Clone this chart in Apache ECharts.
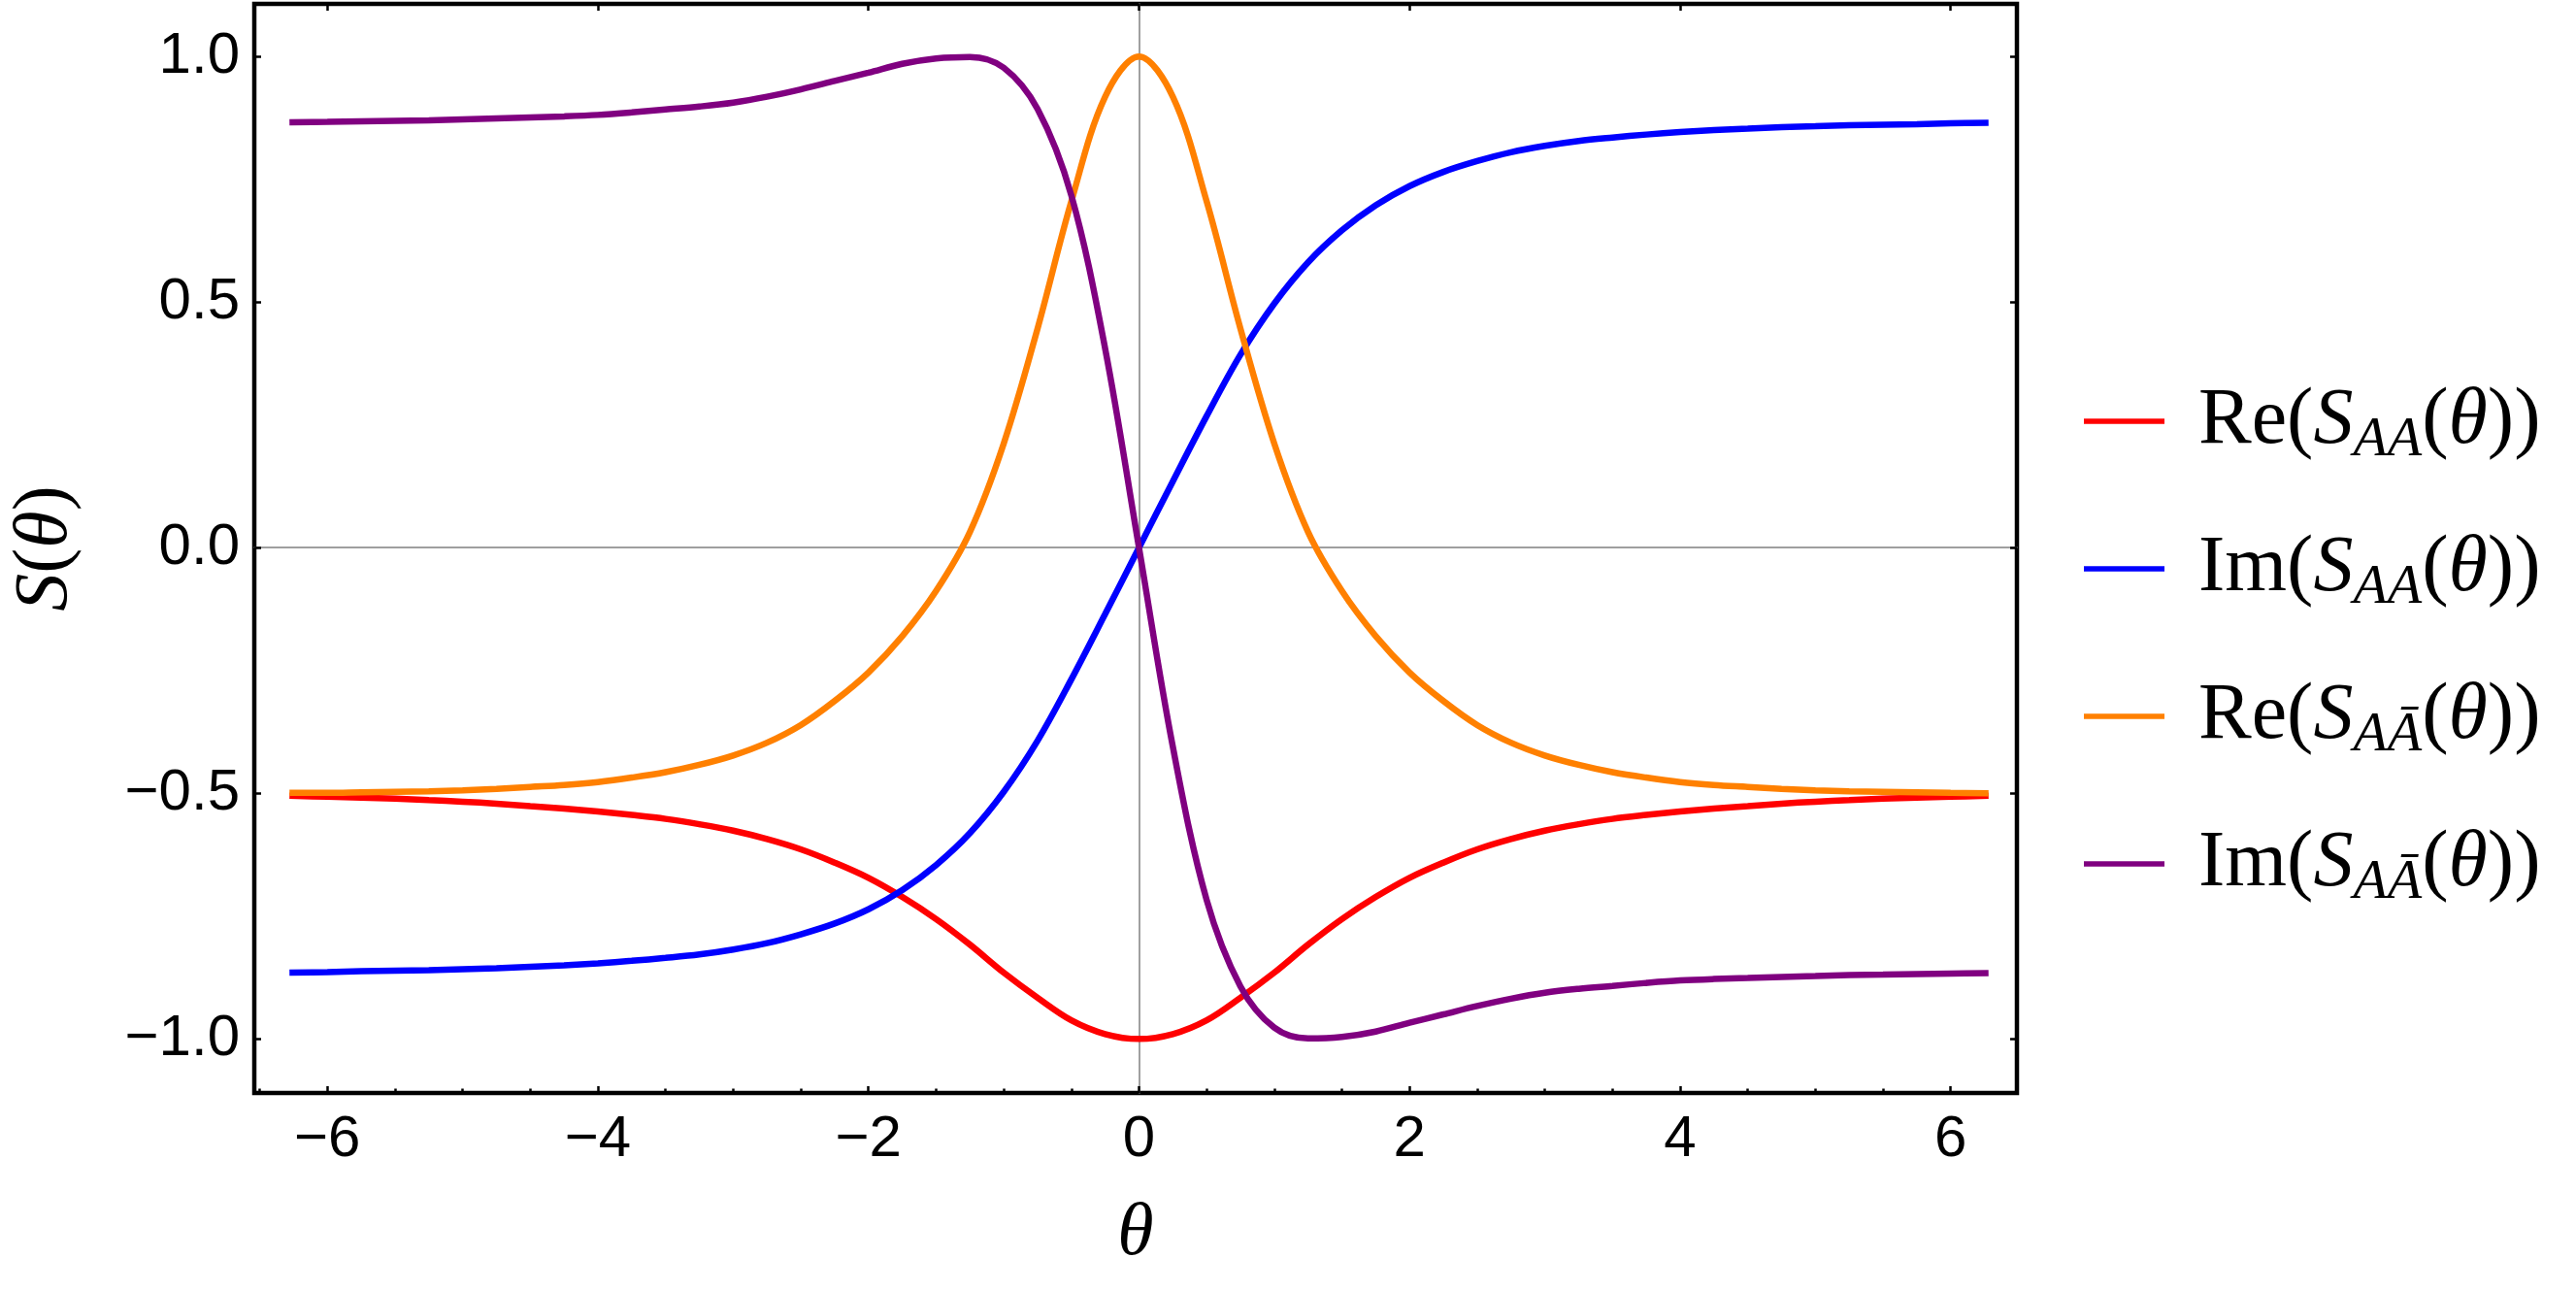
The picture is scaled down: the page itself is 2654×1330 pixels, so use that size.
<!DOCTYPE html>
<html>
<head>
<meta charset="utf-8">
<title>S(θ)</title>
<script src="https://cdn.jsdelivr.net/npm/echarts@6.0.0/dist/echarts.min.js"></script>
<style>
  html, body { margin: 0; padding: 0; background: #fff; }
  #chart { width: 2654px; height: 1330px; }
</style>
</head>
<body>
<div id="chart"></div>
<script>
// sample points along theta (step 0.25, ends at ±2π)
const theta = [-6.28, -6, -5.75, -5.5, -5.25, -5, -4.75, -4.5, -4.25, -4, -3.75, -3.5, -3.25, -3, -2.75, -2.5, -2.25, -2, -1.75, -1.5, -1.25, -1, -0.75, -0.5, -0.25,
  0,
  0.25, 0.5, 0.75, 1, 1.25, 1.5, 1.75, 2, 2.25, 2.5, 2.75, 3, 3.25, 3.5, 3.75, 4, 4.25, 4.5, 4.75, 5, 5.25, 5.5, 5.75, 6, 6.28];

// Re(S_AA)
const reAA = [-0.505, -0.507, -0.509, -0.511, -0.514, -0.517, -0.521, -0.526, -0.531, -0.537, -0.544, -0.552, -0.563, -0.576, -0.593, -0.614, -0.641, -0.672, -0.711, -0.756, -0.808, -0.865, -0.916, -0.962, -0.990,
  -1.0,
  -0.990, -0.962, -0.916, -0.865, -0.808, -0.756, -0.711, -0.672, -0.641, -0.614, -0.593, -0.576, -0.563, -0.552, -0.544, -0.537, -0.531, -0.526, -0.521, -0.517, -0.514, -0.511, -0.509, -0.507, -0.505];

// Im(S_AA)
const imAA = [-0.865, -0.864, -0.862, -0.861, -0.860, -0.858, -0.856, -0.853, -0.850, -0.846, -0.841, -0.835, -0.828, -0.818, -0.805, -0.787, -0.765, -0.736, -0.697, -0.646, -0.581, -0.497, -0.393, -0.268, -0.135,
  0,
  0.135, 0.268, 0.393, 0.497, 0.581, 0.646, 0.697, 0.736, 0.765, 0.787, 0.805, 0.818, 0.828, 0.835, 0.841, 0.846, 0.850, 0.853, 0.856, 0.858, 0.860, 0.861, 0.862, 0.864, 0.865];

// Re(S_AĀ)
const reAAbar = [-0.499, -0.499, -0.498, -0.497, -0.496, -0.494, -0.491, -0.487, -0.483, -0.477, -0.468, -0.457, -0.442, -0.423, -0.397, -0.361, -0.312, -0.254, -0.180, -0.088, 0.032, 0.212, 0.446, 0.705, 0.918,
  1.0,
  0.918, 0.705, 0.446, 0.212, 0.032, -0.088, -0.180, -0.254, -0.312, -0.361, -0.397, -0.423, -0.442, -0.457, -0.468, -0.477, -0.483, -0.487, -0.491, -0.494, -0.496, -0.497, -0.498, -0.499, -0.500];

// Im(S_AĀ)
const imAAbar = [0.866, 0.867, 0.868, 0.869, 0.870, 0.872, 0.874, 0.876, 0.878, 0.881, 0.886, 0.892, 0.898, 0.906, 0.918, 0.933, 0.950, 0.967, 0.985, 0.996, 0.999, 0.977, 0.893, 0.717, 0.405,
  0,
  -0.405, -0.717, -0.893, -0.977, -0.999, -0.996, -0.985, -0.967, -0.950, -0.933, -0.918, -0.906, -0.898, -0.892, -0.886, -0.881, -0.878, -0.876, -0.874, -0.872, -0.870, -0.869, -0.868, -0.867, -0.866];

const seriesNames = ['Re(S_AA(θ))', 'Im(S_AA(θ))', 'Re(S_AĀ(θ))', 'Im(S_AĀ(θ))'];
const seriesValues = [reAA, imAA, reAAbar, imAAbar];
const seriesColors = ['#ff0000', '#0000ff', '#ff8000', '#800080'];

// legend text as rich text (subscripts)
const legendText = {
  'Re(S_AA(θ))': '{r|Re(}{i|S}{s|AA}{r|(}{i|θ}{r|))}',
  'Im(S_AA(θ))': '{r|Im(}{i|S}{s|AA}{r|(}{i|θ}{r|))}',
  'Re(S_AĀ(θ))': '{r|Re(}{i|S}{s|AĀ}{r|(}{i|θ}{r|))}',
  'Im(S_AĀ(θ))': '{r|Im(}{i|S}{s|AĀ}{r|(}{i|θ}{r|))}'
};

const xLabelTicks = [-6, -4, -2, 0, 2, 4, 6];
const xMinorTicks = [-6.5, -5.5, -5, -4.5, -3.5, -3, -2.5, -1.5, -1, -0.5, 0.5, 1, 1.5, 2.5, 3, 3.5, 4.5, 5, 5.5];
const yLabelTicks = [-1, -0.5, 0, 0.5, 1];

const X_MIN = -6.54, X_MAX = 6.49;
const Y_MIN = -1.11, Y_MAX = 1.107;

const serif = 'Liberation Serif';
const sans = 'Liberation Sans';
const tickStyle = { color: '#000', width: 2.5 };
const zeroLine = { color: '#808080', width: 1.5 };

const minus = s => String(s).replace('-', '\u2212');

const mathRich = {
  r: { fontFamily: serif, fontSize: 82, lineHeight: 98, color: '#000' },
  i: { fontFamily: serif, fontStyle: 'italic', fontSize: 82, lineHeight: 98, color: '#000' },
  s: { fontFamily: serif, fontStyle: 'italic', fontSize: 58, lineHeight: 58, verticalAlign: 'bottom', color: '#000' }
};

const axisRich = {
  r: { fontFamily: serif, fontSize: 78, lineHeight: 94, color: '#000' },
  i: { fontFamily: serif, fontStyle: 'italic', fontSize: 78, lineHeight: 94, color: '#000' }
};

const legendCenters = [437, 589, 741, 893];

const chart = echarts.init(document.getElementById('chart'), null, { renderer: 'canvas' });

const option = {
  animation: false,
  backgroundColor: '#fff',
  grid: {
    left: 258, top: 4, width: 1820, height: 1122,
    show: true, borderColor: '#000', borderWidth: 4.5, backgroundColor: 'transparent'
  },
  legend: seriesNames.map((name, i) => ({
    data: [name],
    left: 2142,
    top: legendCenters[i] - 49,
    icon: 'rect',
    itemWidth: 83,
    itemHeight: 5.5,
    selectedMode: false,
    itemStyle: { borderWidth: 0 },
    formatter: n => legendText[n],
    textStyle: { padding: [0, 0, 0, 30], rich: mathRich }
  })),
  xAxis: [
    {
      type: 'value', min: X_MIN, max: X_MAX, position: 'bottom',
      axisLine: { show: false, onZero: false },
      splitLine: { show: false },
      axisTick: { inside: true, length: 7, customValues: xLabelTicks, lineStyle: tickStyle },
      axisLabel: {
        customValues: xLabelTicks, formatter: v => minus(v),
        fontFamily: sans, fontSize: 60, color: '#000', margin: 18
      },
      name: 'θ', nameLocation: 'middle', nameGap: 108,
      nameTextStyle: { fontFamily: serif, fontStyle: 'italic', fontSize: 76, color: '#000' }
    },
    {
      // minor ticks on the bottom frame
      type: 'value', min: X_MIN, max: X_MAX, position: 'bottom',
      axisLine: { show: false, onZero: false },
      splitLine: { show: false },
      axisLabel: { show: false },
      axisTick: { inside: true, length: 4.5, customValues: xMinorTicks, lineStyle: tickStyle }
    },
    {
      type: 'value', min: X_MIN, max: X_MAX, position: 'top',
      axisLine: { show: false, onZero: false },
      splitLine: { show: false },
      axisLabel: { show: false },
      axisTick: { inside: true, length: 7, customValues: xLabelTicks, lineStyle: tickStyle }
    },
    {
      // horizontal axis through y = 0
      type: 'value', min: X_MIN, max: X_MAX, position: 'bottom',
      axisLine: { show: true, onZero: true, onZeroAxisIndex: 0, lineStyle: zeroLine },
      splitLine: { show: false }, axisLabel: { show: false }, axisTick: { show: false }
    }
  ],
  yAxis: [
    {
      type: 'value', min: Y_MIN, max: Y_MAX, position: 'left',
      axisLine: { show: false, onZero: false },
      splitLine: { show: false },
      axisTick: { inside: true, length: 7, customValues: yLabelTicks, lineStyle: tickStyle },
      axisLabel: {
        customValues: yLabelTicks, formatter: v => minus(v.toFixed(1)),
        fontFamily: sans, fontSize: 60, color: '#000', margin: 15
      },
      name: '{i|S}{r|(}{i|θ}{r|)}', nameLocation: 'middle', nameGap: 168, nameRotate: 90,
      nameTextStyle: { rich: axisRich }
    },
    {
      type: 'value', min: Y_MIN, max: Y_MAX, position: 'right',
      axisLine: { show: false, onZero: false },
      splitLine: { show: false },
      axisLabel: { show: false },
      axisTick: { inside: true, length: 7, customValues: yLabelTicks, lineStyle: tickStyle }
    },
    {
      // vertical axis through theta = 0
      type: 'value', min: Y_MIN, max: Y_MAX, position: 'left',
      axisLine: { show: true, onZero: true, onZeroAxisIndex: 0, lineStyle: zeroLine },
      splitLine: { show: false }, axisLabel: { show: false }, axisTick: { show: false }
    }
  ],
  series: seriesNames.map((name, i) => ({
    name: name,
    type: 'line',
    xAxisIndex: 0,
    yAxisIndex: 0,
    data: theta.map((t, k) => [t, seriesValues[i][k]]),
    symbol: 'none',
    showSymbol: false,
    smooth: 0.35,
    lineStyle: { color: seriesColors[i], width: 6.5 },
    itemStyle: { color: seriesColors[i] },
    z: 3 + i
  }))
};

chart.setOption(option);
</script>
</body>
</html>
